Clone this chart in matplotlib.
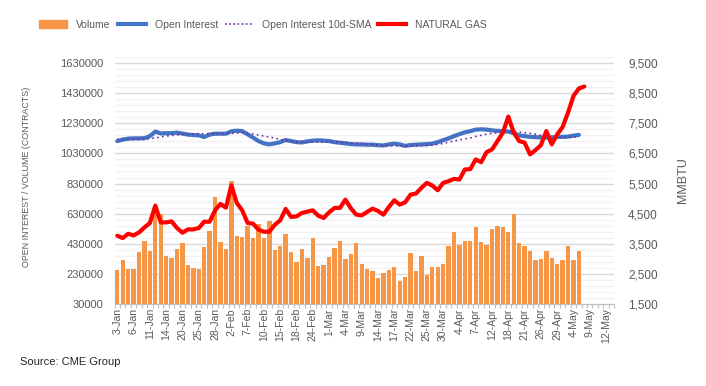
import matplotlib
matplotlib.use("Agg")
import matplotlib.pyplot as plt
from matplotlib.patches import Patch
from matplotlib.lines import Line2D
import numpy as np

plt.rcParams['font.family'] = ['Liberation Sans', 'DejaVu Sans']

# ---- data ----
n_categories = 92  # trading days 3-Jan .. 13-May
tick_labels = ["3-Jan", "6-Jan", "11-Jan", "14-Jan", "20-Jan", "25-Jan", "28-Jan",
               "2-Feb", "7-Feb", "10-Feb", "15-Feb", "18-Feb", "24-Feb", "1-Mar",
               "4-Mar", "9-Mar", "14-Mar", "17-Mar", "22-Mar", "25-Mar", "30-Mar",
               "4-Apr", "7-Apr", "12-Apr", "18-Apr", "21-Apr", "26-Apr", "29-Apr",
               "4-May", "9-May", "12-May"]

volume = [255000, 323000, 263000, 263000, 377000, 450000, 383000, 690000, 630000, 350000,
          337000, 397000, 437000, 290000, 272000, 263000, 410000, 517000, 743000, 443000,
          397000, 850000, 483000, 472000, 550000, 470000, 561000, 470000, 583000, 388000,
          417000, 497000, 377000, 308000, 397000, 335000, 470000, 283000, 290000, 343000,
          403000, 450000, 328000, 363000, 435000, 297000, 263000, 250000, 203000, 235000,
          257000, 277000, 183000, 210000, 370000, 250000, 350000, 223000, 277000, 277000,
          297000, 417000, 510000, 423000, 450000, 450000, 543000, 443000, 423000, 528000,
          550000, 543000, 510000, 630000, 437000, 417000, 381000, 323000, 330000, 381000,
          337000, 297000, 323000, 417000, 323000, 381000]

open_interest = [1112000, 1122000, 1128000, 1130000, 1130000, 1131000, 1145000, 1175000, 1163000, 1164000,
                 1165000, 1168000, 1162000, 1155000, 1152000, 1150000, 1139000, 1155000, 1161000, 1161000,
                 1161000, 1177000, 1181000, 1178000, 1157000, 1135000, 1112000, 1097000, 1090000, 1097000,
                 1105000, 1119000, 1112000, 1105000, 1103000, 1110000, 1115000, 1117000, 1115000, 1112000,
                 1105000, 1101000, 1097000, 1092000, 1090000, 1090000, 1088000, 1088000, 1085000, 1083000,
                 1090000, 1095000, 1090000, 1080000, 1086000, 1088000, 1090000, 1092000, 1095000, 1105000,
                 1118000, 1130000, 1145000, 1158000, 1170000, 1178000, 1188000, 1190000, 1188000, 1183000,
                 1180000, 1178000, 1175000, 1165000, 1150000, 1145000, 1140000, 1138000, 1136000, 1135000,
                 1137000, 1140000, 1140000, 1142000, 1148000, 1153000]

oi_sma = [1123000, 1123000, 1123000, 1123000, 1124000, 1126000, 1128000, 1133000, 1139000, 1145000,
          1149000, 1153000, 1157000, 1158000, 1160000, 1161000, 1161000, 1161000, 1161000, 1161000,
          1161000, 1163000, 1166000, 1168000, 1164000, 1160000, 1152000, 1145000, 1139000, 1132000,
          1123000, 1117000, 1111000, 1106000, 1105000, 1105000, 1105000, 1105000, 1105000, 1108000,
          1108000, 1106000, 1103000, 1100000, 1097000, 1095000, 1092000, 1089000, 1085000, 1083000,
          1082000, 1080000, 1080000, 1080000, 1081000, 1082000, 1082000, 1083000, 1085000, 1090000,
          1096000, 1105000, 1112000, 1120000, 1127000, 1133000, 1143000, 1150000, 1158000, 1163000,
          1168000, 1173000, 1177000, 1177000, 1172000, 1168000, 1163000, 1158000, 1150000, 1145000,
          1142000, 1138000, 1136000, 1137000, 1139000, 1141000]

natural_gas = [3767, 3690, 3833, 3777, 3877, 4043, 4190, 4767, 4210, 4210,
               4243, 4023, 3867, 3977, 3977, 4023, 4233, 4233, 4610, 4823,
               4700, 5440, 4857, 4610, 4190, 4167, 3967, 3900, 3900, 4133,
               4277, 4657, 4390, 4410, 4523, 4567, 4610, 4433, 4357, 4543,
               4690, 4690, 4967, 4680, 4467, 4443, 4557, 4667, 4590, 4467,
               4723, 4943, 4800, 4877, 5133, 5167, 5357, 5523, 5433, 5277,
               5523, 5577, 5657, 5633, 5967, 5980, 6300, 6210, 6543, 6633,
               6910, 7190, 7723, 7190, 6910, 6857, 6467, 6610, 6777, 7243,
               6800, 7133, 7377, 7857, 8410, 8657, 8723]

# ---- colours ----
c_vol = "#F79646"
c_oi = "#4472C4"
c_sma = "#7030A0"
c_ng = "#FF0000"
c_text = "#595959"

fig = plt.figure(figsize=(7.06, 3.86), dpi=100)
ax = fig.add_axes([0.1623, 0.2124, 0.7077, 0.6398])
ax2 = ax.twinx()

x_vol = np.arange(len(volume))
x_ng = np.arange(len(natural_gas))

ax.bar(x_vol, volume, width=0.8, color=c_vol, zorder=2)
ax.plot(x_vol, open_interest, color=c_oi, lw=3.0, solid_capstyle='round', zorder=3)
ax.plot(x_vol, oi_sma, color=c_sma, lw=1.2, ls=(0, (1, 2)), zorder=4)
ax2.plot(x_ng, natural_gas, color=c_ng, lw=3.0, solid_capstyle='round', zorder=5)

ax.set_xlim(-0.5, n_categories - 0.5)
ax.set_ylim(30000, 1670000)
ax2.set_ylim(1500, 9700)

ax.set_yticks(np.arange(30000, 1630001, 200000))
ax.set_yticklabels([str(v) for v in range(30000, 1630001, 200000)])
ax2.set_yticks(np.arange(1500, 9501, 1000))
ax2.set_yticklabels([f"{v:,}" for v in range(1500, 9501, 1000)])

# grid
for v in np.arange(30000, 1670001, 40000):
    major = (v - 30000) % 200000 == 0
    ax.axhline(v, color="#D9D9D9" if major else "#F2F2F2", lw=1.0, zorder=0)

ax.set_xticks(np.arange(0, n_categories, 3))
ax.set_xticklabels(tick_labels, rotation=90, fontsize=7.5, color=c_text)
ax.set_xticks(np.arange(-0.5, n_categories, 1), minor=True)
ax.tick_params(axis='x', which='major', length=0, pad=3)
ax.tick_params(axis='x', which='minor', length=3, color="#BFBFBF", width=0.8)
ax.tick_params(axis='y', length=0, labelsize=8, labelcolor=c_text, pad=8)
ax2.tick_params(axis='y', length=0, labelsize=8.5, labelcolor=c_text, pad=10)

for a in (ax, ax2):
    for s in ("top", "left", "right"):
        a.spines[s].set_visible(False)
    a.spines["bottom"].set_color("#BFBFBF")
ax2.spines["bottom"].set_visible(False)

ax.set_ylabel("OPEN INTEREST / VOLUME (CONTRACTS)", fontsize=6.4, color=c_text)
ax.yaxis.set_label_coords(-0.168, 0.515)
ax2.set_ylabel("MMBTU", fontsize=9, color=c_text, labelpad=14)

handles = [Patch(color=c_vol),
           Line2D([], [], color=c_oi, lw=3),
           Line2D([], [], color=c_sma, lw=1.2, ls=(0, (1, 1.5))),
           Line2D([], [], color=c_ng, lw=3)]
labels = ["Volume", "Open Interest", "Open Interest 10d-SMA", "NATURAL GAS"]
fig.legend(handles, labels, loc="center", bbox_to_anchor=(0.3725, 0.936), ncol=4,
           frameon=False, fontsize=7.5, labelcolor=c_text, handlelength=2.7,
           handletextpad=0.85, columnspacing=0.65, borderpad=0.2)

fig.text(0.028, 0.055, "Source: CME Group", fontsize=8, color="#262626")

fig.savefig("out.png", dpi=100)
